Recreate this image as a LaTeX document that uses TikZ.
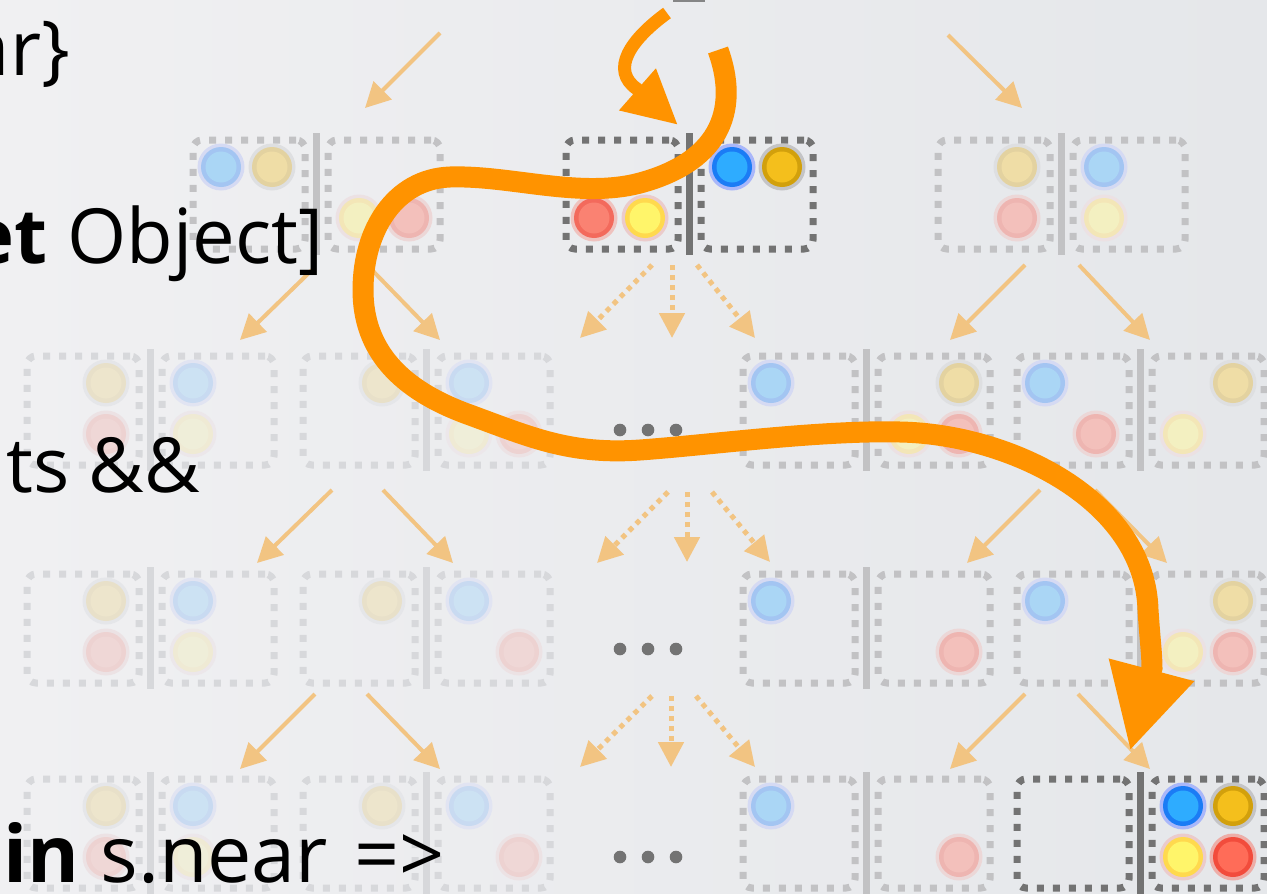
\documentclass[tikz,border=0pt]{standalone}
\usepackage{fontspec}
\setmainfont{Open Sans}
\usetikzlibrary{arrows.meta}

\definecolor{bgc}{HTML}{ECEDF0}
\definecolor{bgleft}{HTML}{F0F0F2}
\definecolor{bgright}{HTML}{E5E7EA}
\definecolor{dotc}{HTML}{737373}
\definecolor{bluehalo}{HTML}{A9B7FA}
\definecolor{bluering}{HTML}{1B7CF5}
\definecolor{bluecore}{HTML}{2EACFF}
\definecolor{goldhalo}{HTML}{C4C4C6}
\definecolor{goldring}{HTML}{D2A00C}
\definecolor{goldcore}{HTML}{F4BF1C}
\definecolor{yellowhalo}{HTML}{EBCBCB}
\definecolor{yellowring}{HTML}{FFD94E}
\definecolor{yellowcore}{HTML}{FFF56A}
\definecolor{redhalo}{HTML}{EDAEA8}
\definecolor{redring}{HTML}{F24C3C}
\definecolor{redcore}{HTML}{FF6C58}
\definecolor{salmonhalo}{HTML}{EFC2BE}
\definecolor{salmonring}{HTML}{F36A5C}
\definecolor{salmoncore}{HTML}{FA8272}
\definecolor{arrc}{HTML}{F2C482}
\definecolor{pathc}{HTML}{FF9300}

\tikzset{
  box/.style={line width=7pt, dash pattern=on 7pt off 9pt, rounded corners=9pt,
    minimum width=112pt, minimum height=109pt, anchor=north west,
    inner sep=0pt, outer sep=0pt},
  sepbar/.style={line width=7pt},
  halo/.style={circle, minimum size=47pt, inner sep=0pt, outer sep=0pt},
  flow/.style={draw=arrc, line width=4pt, -{Triangle[length=25pt,width=25pt]}},
  flowdots/.style={flow, line width=5pt, dash pattern=on 5pt off 5pt},
  route/.style={draw=pathc, line cap=butt},
  txt/.style={inner sep=0pt, outer sep=0pt, anchor=base east,
    font=\fontsize{76}{80}\selectfont},
  ell/.style={circle, fill=dotc, minimum size=12.6pt, inner sep=0pt},
}

% two dotted boxes with a bar between them; #4 = strength of the colours (percent)
\newcommand\pairframe[4]{%
  \node[box, draw=dotc!#4!bgc] (#1L) at ({#2},{#3}) {};
  \node[box, draw=dotc!#4!bgc] (#1R) at ({#2+135},{#3}) {};
  \draw[sepbar, draw=dotc!#4!bgc] ({#2+123},{#3-7}) -- ({#2+123},{#3+115});
}
% a coloured ball: halo, ring and core
\newcommand\ball[5]{%
  \node[halo, fill=#2halo!#5!bgc] (#1) at ({#3},{#4}) {};
  \fill[#2ring!#5!bgc] (#1.center) circle[radius=20pt];
  \fill[#2core!#5!bgc] (#1.center) circle[radius=15.5pt];
}
% connector between two named points
\newcommand\link[5]{%
  \coordinate (#2) at (#3);
  \coordinate (#4) at (#5);
  \draw[#1] (#2) -- (#4);
}
% slot offsets inside a pair
\def\La{28}\def\Lb{79}\def\Ra{166}\def\Rb{216}\def\Tp{27}\def\Bt{78}

\begin{document}
\begin{tikzpicture}[x=1pt, y=-1pt]
\useasboundingbox (0,0) rectangle (1267,894);
\clip (0,0) rectangle (1267,894);
\shade[left color=bgleft, right color=bgright] (0,0) rectangle (1267,894);

% sliver of an element above
\fill[dotc!85!bgc] (673,0) rectangle (705,2);

% ---------- level 1 ----------
\def\Y{140}
\def\X{193}\def\F{35}
\pairframe{r1p1}{\X}{\Y}{\F}
\ball{r1p1a}{blue}{\X+\La}{\Y+\Tp}{\F}
\ball{r1p1b}{gold}{\X+\Lb}{\Y+\Tp}{\F}
\ball{r1p1c}{yellow}{\X+\Ra}{\Y+\Bt}{\F}
\ball{r1p1d}{red}{\X+\Rb}{\Y+\Bt}{\F}
\def\X{566}\def\F{100}
\pairframe{r1p2}{\X}{\Y}{\F}
\ball{r1p2a}{salmon}{\X+\La}{\Y+\Bt}{\F}
\ball{r1p2b}{yellow}{\X+\Lb}{\Y+\Bt}{\F}
\ball{r1p2c}{blue}{\X+\Ra}{\Y+\Tp}{\F}
\ball{r1p2d}{gold}{\X+\Rb}{\Y+\Tp}{\F}
\def\X{938}\def\F{35}
\pairframe{r1p3}{\X}{\Y}{\F}
\ball{r1p3a}{gold}{\X+\Lb}{\Y+\Tp}{\F}
\ball{r1p3b}{red}{\X+\Lb}{\Y+\Bt}{\F}
\ball{r1p3c}{blue}{\X+\Ra}{\Y+\Tp}{\F}
\ball{r1p3d}{yellow}{\X+\Ra}{\Y+\Bt}{\F}

% ---------- level 2 ----------
\def\Y{356}
\def\X{27}\def\F{17}
\pairframe{r2p1}{\X}{\Y}{\F}
\ball{r2p1a}{gold}{\X+\Lb}{\Y+\Tp}{\F}
\ball{r2p1b}{red}{\X+\Lb}{\Y+\Bt}{\F}
\ball{r2p1c}{blue}{\X+\Ra}{\Y+\Tp}{\F}
\ball{r2p1d}{yellow}{\X+\Ra}{\Y+\Bt}{\F}
\def\X{303}
\pairframe{r2p2}{\X}{\Y}{\F}
\ball{r2p2a}{gold}{\X+\Lb}{\Y+\Tp}{\F}
\ball{r2p2b}{blue}{\X+\Ra}{\Y+\Tp}{\F}
\ball{r2p2c}{yellow}{\X+\Ra}{\Y+\Bt}{\F}
\ball{r2p2d}{red}{\X+\Rb}{\Y+\Bt}{\F}
\def\X{743}\def\F{35}
\pairframe{r2p3}{\X}{\Y}{\F}
\ball{r2p3a}{blue}{\X+\La}{\Y+\Tp}{\F}
\ball{r2p3b}{gold}{\X+\Rb}{\Y+\Tp}{\F}
\ball{r2p3c}{yellow}{\X+\Ra}{\Y+\Bt}{\F}
\ball{r2p3d}{red}{\X+\Rb}{\Y+\Bt}{\F}
\def\X{1017}
\pairframe{r2p4}{\X}{\Y}{\F}
\ball{r2p4a}{blue}{\X+\La}{\Y+\Tp}{\F}
\ball{r2p4b}{red}{\X+\Lb}{\Y+\Bt}{\F}
\ball{r2p4c}{gold}{\X+\Rb}{\Y+\Tp}{\F}
\ball{r2p4d}{yellow}{\X+\Ra}{\Y+\Bt}{\F}
\node[ell] (r2e1) at (620,430) {};
\node[ell] (r2e2) at (648,430) {};
\node[ell] (r2e3) at (676,430) {};

% ---------- level 3 ----------
\def\Y{574}
\def\X{27}\def\F{17}
\pairframe{r3p1}{\X}{\Y}{\F}
\ball{r3p1a}{gold}{\X+\Lb}{\Y+\Tp}{\F}
\ball{r3p1b}{red}{\X+\Lb}{\Y+\Bt}{\F}
\ball{r3p1c}{blue}{\X+\Ra}{\Y+\Tp}{\F}
\ball{r3p1d}{yellow}{\X+\Ra}{\Y+\Bt}{\F}
\def\X{303}
\pairframe{r3p2}{\X}{\Y}{\F}
\ball{r3p2a}{gold}{\X+\Lb}{\Y+\Tp}{\F}
\ball{r3p2b}{blue}{\X+\Ra}{\Y+\Tp}{\F}
\ball{r3p2c}{red}{\X+\Rb}{\Y+\Bt}{\F}
\def\X{743}\def\F{35}
\pairframe{r3p3}{\X}{\Y}{\F}
\ball{r3p3a}{blue}{\X+\La}{\Y+\Tp}{\F}
\ball{r3p3b}{red}{\X+\Rb}{\Y+\Bt}{\F}
\def\X{1017}
\pairframe{r3p4}{\X}{\Y}{\F}
\ball{r3p4a}{blue}{\X+\La}{\Y+\Tp}{\F}
\ball{r3p4b}{gold}{\X+\Rb}{\Y+\Tp}{\F}
\ball{r3p4c}{yellow}{\X+\Ra}{\Y+\Bt}{\F}
\ball{r3p4d}{red}{\X+\Rb}{\Y+\Bt}{\F}
\node[ell] (r3e1) at (620,649) {};
\node[ell] (r3e2) at (648,649) {};
\node[ell] (r3e3) at (676,649) {};

% ---------- level 4 ----------
\def\Y{779}
\def\X{27}\def\F{17}
\pairframe{r4p1}{\X}{\Y}{\F}
\ball{r4p1a}{gold}{\X+\Lb}{\Y+\Tp}{\F}
\ball{r4p1b}{red}{\X+\Lb}{\Y+\Bt}{\F}
\ball{r4p1c}{blue}{\X+\Ra}{\Y+\Tp}{\F}
\ball{r4p1d}{yellow}{\X+\Ra}{\Y+\Bt}{\F}
\def\X{303}
\pairframe{r4p2}{\X}{\Y}{\F}
\ball{r4p2a}{gold}{\X+\Lb}{\Y+\Tp}{\F}
\ball{r4p2b}{blue}{\X+\Ra}{\Y+\Tp}{\F}
\ball{r4p2c}{red}{\X+\Rb}{\Y+\Bt}{\F}
\def\X{743}\def\F{35}
\pairframe{r4p3}{\X}{\Y}{\F}
\ball{r4p3a}{blue}{\X+\La}{\Y+\Tp}{\F}
\ball{r4p3b}{red}{\X+\Rb}{\Y+\Bt}{\F}
\def\X{1017}\def\F{100}
\pairframe{r4p4}{\X}{\Y}{\F}
\ball{r4p4a}{blue}{\X+\Ra}{\Y+\Tp}{\F}
\ball{r4p4b}{gold}{\X+\Rb}{\Y+\Tp}{\F}
\ball{r4p4c}{yellow}{\X+\Ra}{\Y+\Bt}{\F}
\ball{r4p4d}{red}{\X+\Rb}{\Y+\Bt}{\F}
\node[ell] (r4e1) at (620,857) {};
\node[ell] (r4e2) at (648,857) {};
\node[ell] (r4e3) at (676,857) {};

% ---------- expansion arrows ----------
\link{flow}{t0l-s}{440,33}{t0l-e}{365,108}
\link{flow}{t0r-s}{948,35}{t0r-e}{1022,108}

\link{flow}{a1l-s}{312,270}{a1l-e}{240,340}
\link{flow}{a1r-s}{372,270}{a1r-e}{440,340}
\link{flowdots}{d1l-s}{652,265}{d1l-e}{580,338}
\link{flowdots}{d1m-s}{672,265}{d1m-e}{672,338}
\link{flowdots}{d1r-s}{697,265}{d1r-e}{755,338}
\link{flow}{b1l-s}{1025,265}{b1l-e}{950,340}
\link{flow}{b1r-s}{1079,265}{b1r-e}{1150,340}

\link{flow}{a2l-s}{332,490}{a2l-e}{257,563}
\link{flow}{a2r-s}{383,490}{a2r-e}{453,563}
\link{flowdots}{d2l-s}{668,492}{d2l-e}{597,563}
\link{flowdots}{d2m-s}{687,492}{d2m-e}{687,562}
\link{flowdots}{d2r-s}{712,492}{d2r-e}{770,562}
\link{flow}{b2l-s}{1040,490}{b2l-e}{967,563}
\link{flow}{b2r-s}{1095,490}{b2r-e}{1167,563}

\link{flow}{a3l-s}{315,694}{a3l-e}{240,769}
\link{flow}{a3r-s}{367,694}{a3r-e}{440,769}
\link{flowdots}{d3l-s}{652,696}{d3l-e}{580,767}
\link{flowdots}{d3m-s}{671,696}{d3m-e}{671,767}
\link{flowdots}{d3r-s}{696,696}{d3r-e}{755,767}
\link{flow}{b3l-s}{1025,694}{b3l-e}{950,769}
\link{flow}{b3r-s}{1078,694}{b3r-e}{1150,769}

% code text, set over the tree
\node[txt] (code1) at (70,75) {ar\}};
\node[txt] (code2) at (323,263) {\textbf{et} Object]};
\node[txt] (code3) at (200,492) {ats \&\&};
\node[txt, font=\fontsize{79}{84}\selectfont] (code4) at (445,882)
  {\textbf{in} s.near\kern6pt{} =>};

% ---------- search route ----------
\coordinate (hookstart) at (667,13);
\coordinate (hookbase) at (637,89);
\coordinate (hooktip) at (678,125);
\draw[route, line width=13pt, -{Triangle[length=54pt,width=52pt]}]
  (hookstart) .. controls (630,40) and (610,70) .. (hookbase) -- (hooktip);

\coordinate (walkstart) at (718,50);
\coordinate (walkbase) at (1152,668);
\coordinate (walktip) at (1130,751);
\draw[route, line width=21pt, -{Triangle[length=84pt,width=82pt]}]
  (walkstart) .. controls (738,105) and (725,160) .. (640,183)
  .. controls (580,199) and (510,175) .. (450,177)
  .. controls (395,179) and (363,230) .. (363,290)
  .. controls (363,350) and (400,390) .. (470,415)
  .. controls (530,437) and (570,455) .. (640,450)
  .. controls (710,445) and (820,430) .. (900,432)
  .. controls (1010,434) and (1145,500) .. (1148,610)
  .. controls (1150,640) and (1152,655) .. (walkbase) -- (walktip);
\end{tikzpicture}
\end{document}
